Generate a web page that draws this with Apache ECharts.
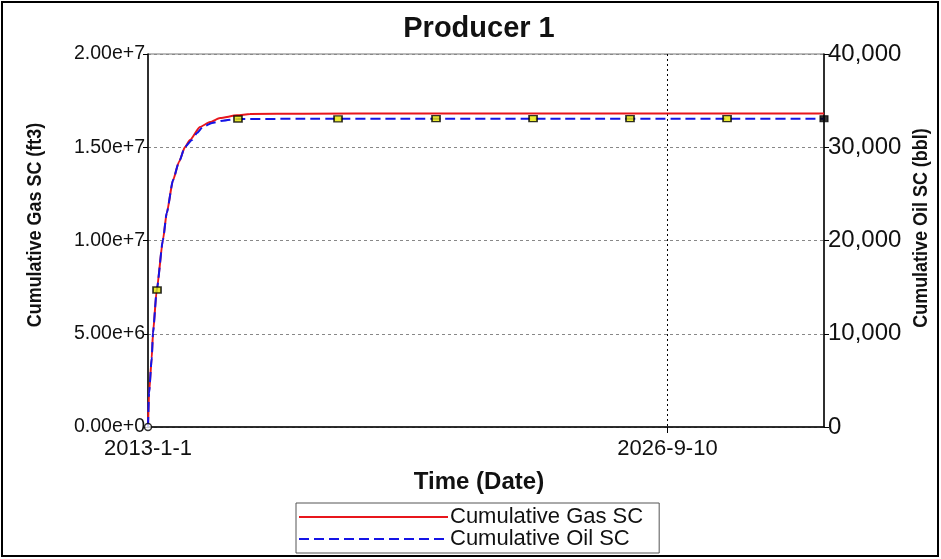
<!DOCTYPE html>
<html>
<head>
<meta charset="utf-8">
<script src="https://cdn.jsdelivr.net/npm/echarts@6/dist/echarts.min.js"></script>
<style>html,body{margin:0;padding:0;background:#fff}#c{width:941px;height:559px}</style>
</head>
<body>
<div id="c"></div>
<script>
// Days since 2013-01-01
const gasDays = [0,10,36,48,84,144,180,241,298,356,404,500,597,693,857,982,1500,2500,4000,5500,6506];
const gasValues = [0,1.82e6,3.70e6,5.04e6,7.35e6,1.003e7,1.147e7,1.324e7,1.421e7,1.501e7,1.539e7,1.609e7,1.635e7,1.657e7,1.671e7,1.678e7,1.680e7,1.681e7,1.681e7,1.681e7,1.681e7];
const oilDays = [0,10,36,48,84,144,180,241,298,356,423,471,529,616,722,866,1500,2500,4000,5500,6506];
const oilValues = [0,3650,7400,10080,14700,20060,22950,26480,28420,30030,30780,31530,32200,32600,32850,33030,33050,33060,33060,33060,33060];
const markerDays = [0,87,866,1829,2772,3706,4639,5573,6506];
const markerOil = [0,14690,33030,33050,33060,33060,33060,33060,33060];
const xTickDays = [0,5000];
const startDate = Date.UTC(2013,0,1);
const xMaxDays = 6506;
const titleText = 'Producer 1';
const leftName = 'Cumulative Gas SC (ft3)';
const rightName = 'Cumulative Oil SC (bbl)';
const xName = 'Time (Date)';

function fmtDate(v){
  const d = new Date(startDate + Math.round(v)*86400000);
  return d.getUTCFullYear()+'-'+(d.getUTCMonth()+1)+'-'+d.getUTCDate();
}
const FONT = 'Liberation Sans, Arial, sans-serif';
const chart = echarts.init(document.getElementById('c'));
const markerData = markerDays.map((d,i)=>{
  const item = {value:[d, markerOil[i]]};
  if (i===0) item.symbol='circle', item.symbolSize=7, item.itemStyle={color:'#fff',borderColor:'#000',borderWidth:1.5};
  if (i===markerDays.length-1) item.itemStyle={color:'#000',borderColor:'#000',borderWidth:1};
  return item;
});
chart.setOption({
  animation:false,
  backgroundColor:'#fff',
  textStyle:{fontFamily:FONT},
  title:{text:titleText,left:474,textAlign:'center',top:9,textStyle:{fontFamily:FONT,fontSize:29,fontWeight:'bold',color:'#111'}},
  graphic:[
    {type:'rect',shape:{x:2,y:2,width:936,height:554},style:{fill:'none',stroke:'#000',lineWidth:2},silent:true},
    {type:'text',x:35,y:225,rotation:Math.PI/2,scaleX:0.855,style:{text:leftName,align:'center',verticalAlign:'middle',font:'bold 21px '+FONT,fill:'#111'},silent:true},
    {type:'text',x:921,y:228,rotation:Math.PI/2,scaleX:0.855,style:{text:rightName,align:'center',verticalAlign:'middle',font:'bold 21px '+FONT,fill:'#111'},silent:true}
  ],
  grid:{left:148,right:117,top:54,bottom:132,show:true,borderColor:'#777',borderWidth:1},
  legend:{
    orient:'vertical',left:296,top:503,itemWidth:149,itemHeight:12,itemGap:0,
    padding:[3,16,3,2],borderColor:'#555',borderWidth:1,
    itemStyle:{opacity:0},
    data:['Cumulative Gas SC','Cumulative Oil SC'],
    textStyle:{fontFamily:FONT,fontSize:22,color:'#111',padding:[0,0,0,-3]}
  },
  xAxis:{
    type:'value',min:0,max:xMaxDays,interval:5000,
    name:xName,nameLocation:'middle',nameGap:43,
    nameTextStyle:{fontFamily:FONT,fontSize:24,fontWeight:'bold',color:'#111',padding:[0,14,0,0]},
    axisLine:{lineStyle:{color:'#000',width:1.5}},
    axisTick:{show:true,length:6,lineStyle:{color:'#000'},customValues:[5000]},
    axisLabel:{customValues:xTickDays,formatter:fmtDate,fontFamily:FONT,fontSize:22,color:'#111',margin:11},
    splitLine:{show:true,lineStyle:{color:'#000',type:[2,3],width:1}}
  },
  yAxis:[{
    type:'value',min:0,max:2e7,interval:5e6,position:'left',
    axisLine:{show:true,lineStyle:{color:'#000',width:1.5}},
    axisTick:{show:true,length:5,lineStyle:{color:'#000'}},
    axisLabel:{formatter:v=>v.toExponential(2),fontFamily:FONT,fontSize:19.5,color:'#111',margin:3},
    splitLine:{show:true,lineStyle:{color:'#888',type:[3,3],width:1}}
  },{
    type:'value',min:0,max:40000,interval:10000,position:'right',
    axisLine:{show:true,lineStyle:{color:'#000',width:1.5}},
    axisTick:{show:true,length:5,lineStyle:{color:'#000'}},
    axisLabel:{formatter:v=>v.toLocaleString('en-US'),fontFamily:FONT,fontSize:24,color:'#111',margin:4},
    splitLine:{show:false}
  }],
  series:[{
    name:'Cumulative Gas SC',type:'line',yAxisIndex:0,symbol:'none',smooth:0.2,smoothMonotone:'x',
    lineStyle:{color:'#e8161c',width:2},itemStyle:{color:'#e8161c'},
    data:gasDays.map((d,i)=>[d,gasValues[i]]),z:3
  },{
    name:'Cumulative Oil SC',type:'line',yAxisIndex:1,symbol:'none',smooth:0.2,smoothMonotone:'x',
    lineStyle:{color:'#1414e6',width:2,type:[10,5]},itemStyle:{color:'#1414e6'},
    data:oilDays.map((d,i)=>[d,oilValues[i]]),z:4
  },{
    name:'markers',type:'scatter',yAxisIndex:1,symbol:'rect',symbolSize:[8,6],
    itemStyle:{color:'#e6e600',borderColor:'#000',borderWidth:1.5},
    data:markerData,z:5,silent:true
  }]
});
</script>
</body>
</html>
